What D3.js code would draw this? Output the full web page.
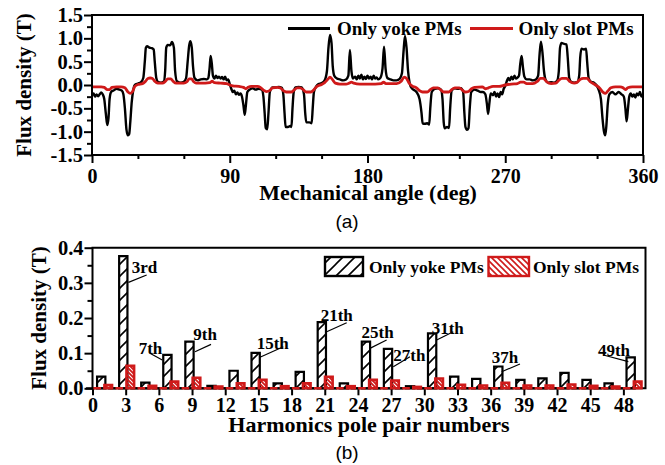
<!DOCTYPE html>
<html><head><meta charset="utf-8">
<script src="https://cdn.jsdelivr.net/npm/d3@7"></script>
<style>
html,body{margin:0;padding:0;background:#fff;}
svg{display:block;}
text.s{font-family:"Liberation Serif","Times New Roman",serif;font-weight:bold;fill:#000;}
text.a{font-family:"Liberation Sans",Arial,sans-serif;fill:#000;}
</style></head><body>
<svg id="c" width="665" height="465"></svg>
<script>
// ---------------- DATA ----------------
// (a) air-gap flux density vs mechanical angle
const yokeAngle = [0,1,2,3,4,5,6,7,8,9,10,10.8,11.5,12.5,14,16,18,19.5,20.5,21.5,22.5,23.5,24.3,25,26,27,28,30,32,33.5,34.5,35.2,36,37.5,39,40.3,41,42,43,45,47,47.8,48.5,49.5,51,52.3,53.5,54.3,55.5,58,60,61.5,62.5,63.5,64.3,65.2,66,67,69,71,73,75,76,76.8,77.5,78.3,79,80,81,82,83,84,85,86,87,88,89,90,91,92,93,94,95,96,97,98,99,99.8,100.5,101.5,103,105,107,109,111,112,112.8,113.5,114.5,115.3,116.2,118,120,122,124,125,125.8,126.5,128,129.5,130.3,131,131.8,133,135,137,138.5,139.3,140,142,143.5,144.2,145,146.5,148,150,152,153.5,154.5,155.5,156.5,157.3,158.3,160,162,164,166,167.5,168.5,169.5,170.5,172,173,174,175,176,177,178,179,180,181,182,183,184,185,186,187,188.5,189.8,190.8,191.8,193,195,197,199,201,202.5,203.5,204.5,205.5,206.5,207.5,208.5,210,212,214,215.3,216,217.5,219,220.3,221,222,224,226,228,229,229.8,230.5,232,233.3,234,235,237,239,241,242.5,243.3,244,245,246,246.8,247.8,250,252,254,255.5,257,258,258.8,259.6,260.5,262,263,264,265,266,267,268,269,270,271,272,273,274,275,276,277,278,279,279.8,280.7,281.5,282.5,284,286,288,290,291.5,292.3,293.3,294.3,295.3,296.5,298,300,302,304,305,305.8,306.8,308.5,310,310.8,311.8,313,315,317,318.3,319,319.8,321.5,322.8,323.5,324.5,326,328,329.5,331,332.5,333.5,334.5,335.3,336,337,338,340,342,344,346,347.5,348.5,349.3,350.2,351,352,353,354,355,356,357,358,359,360];
const yokeFlux = [-0.22,-0.18,-0.25,-0.2,-0.24,-0.2,-0.16,-0.2,-0.3,-0.6,-0.86,-0.7,-0.3,-0.15,-0.12,-0.08,-0.1,-0.12,-0.2,-0.5,-0.95,-1.08,-1.05,-0.8,-0.35,-0.1,0.0,0.03,0.06,0.15,0.5,0.8,0.83,0.8,0.79,0.76,0.5,0.15,0.07,0.05,0.08,0.3,0.8,0.86,0.85,0.92,0.8,0.3,0.08,0.05,0.07,0.15,0.5,0.85,0.94,0.8,0.4,0.15,0.1,0.12,0.13,0.12,0.15,0.35,0.62,0.45,0.2,0.14,0.2,0.15,0.18,0.14,0.17,0.12,0.18,0.1,0.12,0.02,-0.08,-0.15,-0.12,-0.2,-0.16,-0.21,-0.18,-0.25,-0.45,-0.64,-0.45,-0.15,-0.1,-0.07,-0.1,-0.08,-0.1,-0.25,-0.6,-0.92,-0.95,-0.6,-0.15,-0.05,-0.05,-0.04,-0.06,-0.2,-0.6,-0.9,-0.9,-0.88,-0.9,-0.5,-0.15,-0.05,-0.04,-0.05,-0.2,-0.6,-0.8,-0.8,-0.82,-0.5,-0.15,-0.03,0.02,0.04,0.1,0.3,0.8,1.07,0.9,0.4,0.2,0.14,0.12,0.1,0.12,0.2,0.75,0.3,0.14,0.18,0.12,0.2,0.14,0.22,0.12,0.18,0.13,0.2,0.14,0.18,0.12,0.2,0.14,0.16,0.12,0.16,0.35,0.82,0.35,0.15,0.12,0.1,0.1,0.13,0.25,0.7,1.05,0.8,0.3,0.05,-0.05,-0.1,-0.15,-0.3,-0.6,-0.82,-0.83,-0.82,-0.85,-0.5,-0.15,-0.08,-0.07,-0.1,-0.3,-0.8,-0.93,-0.9,-0.92,-0.5,-0.12,-0.07,-0.08,-0.07,-0.15,-0.6,-0.9,-0.96,-0.92,-0.5,-0.15,-0.1,-0.12,-0.15,-0.15,-0.2,-0.4,-0.62,-0.4,-0.18,-0.22,-0.15,-0.25,-0.18,-0.26,-0.15,-0.2,-0.08,-0.02,0.08,0.15,0.1,0.18,0.12,0.2,0.14,0.16,0.2,0.45,0.62,0.4,0.18,0.12,0.12,0.1,0.12,0.2,0.6,0.93,0.7,0.3,0.1,0.05,0.06,0.05,0.1,0.3,0.8,0.9,0.88,0.87,0.6,0.15,0.07,0.05,0.06,0.2,0.6,0.78,0.76,0.78,0.5,0.15,0.07,0.05,0.0,-0.1,-0.3,-0.7,-1.0,-1.08,-0.9,-0.4,-0.2,-0.15,-0.2,-0.15,-0.2,-0.25,-0.5,-0.78,-0.5,-0.25,-0.18,-0.25,-0.2,-0.27,-0.18,-0.22,-0.15,-0.25,-0.2];
const slotAngle = [0,6,8,10,11.5,13,16,19,21.5,23.5,25,26.5,28,30,33,35,36.5,38,39.5,41,43,46,48,49.5,51.5,53,55,60,62,63.5,65,66.5,68,74,77,78.5,80,84,88,90,92,96,99,100.5,102,104,108,110,112,114,116,118,121,123,125,127,130,132,134,136,138,140,143,145,147,150,152,154,155.5,157,159,162,166,168,169.5,171,175,185,189,190.5,192,199,202,204,205.5,207,209,212,214,216,219,221,223,226,228,230,233,235,237,240,242,244,246,248,250,255,257,259,262,266,270,274,278,280,282,284,288,291,293,295,297,300,303,305,307,310,312,315,317,319,321,323.5,325.5,328,330,332,334,335.5,337,339,342,345,347,348.5,350,353,360];
const slotFlux = [-0.04,-0.04,-0.05,-0.1,-0.1,-0.05,-0.04,-0.04,-0.06,-0.15,-0.18,-0.14,-0.03,0.01,0.03,0.08,0.14,0.15,0.14,0.08,0.04,0.04,0.08,0.13,0.13,0.08,0.04,0.04,0.07,0.13,0.13,0.07,0.04,0.04,0.05,0.08,0.05,0.04,0.03,0.0,-0.02,-0.03,-0.05,-0.08,-0.05,-0.03,-0.03,-0.05,-0.11,-0.14,-0.12,-0.06,-0.05,-0.06,-0.12,-0.15,-0.15,-0.11,-0.06,-0.06,-0.1,-0.15,-0.15,-0.1,-0.03,0.01,0.05,0.12,0.17,0.12,0.04,0.02,0.02,0.04,0.06,0.04,0.02,0.02,0.03,0.06,0.03,0.03,0.08,0.17,0.14,0.05,-0.02,-0.06,-0.12,-0.15,-0.15,-0.1,-0.06,-0.06,-0.11,-0.15,-0.15,-0.1,-0.06,-0.06,-0.11,-0.15,-0.14,-0.08,-0.05,-0.04,-0.08,-0.06,-0.03,-0.03,0.0,0.02,0.03,0.06,0.06,0.03,0.03,0.08,0.14,0.14,0.07,0.03,0.04,0.1,0.14,0.14,0.08,0.04,0.06,0.12,0.14,0.14,0.07,0.02,-0.02,-0.08,-0.16,-0.18,-0.13,-0.06,-0.04,-0.04,-0.06,-0.1,-0.06,-0.04,-0.04];

// (b) harmonic spectrum
const harmonics = [0,1,2,3,4,5,6,7,8,9,10,11,12,13,14,15,16,17,18,19,20,21,22,23,24,25,26,27,28,29,30,31,32,33,34,35,36,37,38,39,40,41,42,43,44,45,46,47,48,49];
const yokeHarm = [0,0.033,0,0.376,0,0.016,0,0.095,0,0.133,0,0.007,0,0.05,0,0.101,0,0.014,0,0.047,0,0.188,0,0.014,0,0.133,0,0.112,0,0.006,0,0.156,0,0.033,0,0.027,0,0.062,0,0.024,0,0.028,0,0.044,0,0.024,0,0.014,0,0.088];
const slotHarm = [0,0.009,0,0.064,0,0.007,0,0.019,0,0.03,0,0.005,0,0.014,0,0.024,0,0.006,0,0.014,0,0.033,0,0.006,0,0.024,0,0.022,0,0.004,0,0.028,0,0.01,0,0.008,0,0.016,0,0.008,0,0.008,0,0.011,0,0.007,0,0.005,0,0.019];
const annoHarm = [3,7,9,15,21,25,27,31,37,49];
const annoText = ['3rd','7th','9th','15th','21th','25th','27th','31th','37h','49th'];

// tick values
const topXTicks = [0,90,180,270,360];
const topXMinor = [30,60,120,150,210,240,300,330];
const topYTicks = [-1.5,-1.0,-0.5,0.0,0.5,1.0,1.5];
const topYMinor = [-1.25,-0.75,-0.25,0.25,0.75,1.25];
const botXTicks = [0,3,6,9,12,15,18,21,24,27,30,33,36,39,42,45,48];
const botYTicks = [0.0,0.1,0.2,0.3,0.4];
const botYMinor = [0.05,0.15,0.25,0.35];

const seriesNames = ['Only yoke PMs','Only slot PMs'];
const RED = '#cf1a1a';

// ---------------- DRAW ----------------
const svg = d3.select('#c');
const defs = svg.append('defs');
defs.append('pattern').attr('id','hK').attr('patternUnits','userSpaceOnUse').attr('width',12).attr('height',12)
  .append('path').attr('d','M-3,3 L3,-3 M0,12 L12,0 M9,15 L15,9').attr('stroke','#000').attr('stroke-width',1.6);
defs.append('pattern').attr('id','hR').attr('patternUnits','userSpaceOnUse').attr('width',6).attr('height',6)
  .append('path').attr('d','M-3,3 L3,9 M0,0 L6,6 M3,-3 L9,3').attr('stroke',RED).attr('stroke-width',1.6);
defs.append('pattern').attr('id','hR2').attr('patternUnits','userSpaceOnUse').attr('width',4).attr('height',4)
  .append('path').attr('d','M-2,2 L2,6 M0,0 L4,4 M2,-2 L6,2').attr('stroke',RED).attr('stroke-width',1.8);

function styleAxis(g, fs){
  g.select('.domain').remove();
  g.selectAll('.tick line').attr('stroke','#000').attr('stroke-width',2);
  g.selectAll('.tick text').attr('class','s').style('font-size',fs+'px');
}

// ===== (a) =====
const A = {l:92, r:643, t:15, b:155};
const xA = d3.scaleLinear().domain([0,360]).range([A.l,A.r]);
const yA = d3.scaleLinear().domain([-1.5,1.5]).range([A.b,A.t]);

svg.append('g').attr('transform',`translate(0,${A.b})`)
  .call(d3.axisBottom(xA).tickValues(topXMinor).tickSize(4).tickFormat(''))
  .call(g=>styleAxis(g,20));
svg.append('g').attr('transform',`translate(0,${A.b})`)
  .call(d3.axisBottom(xA).tickValues(topXTicks).tickSize(8).tickPadding(6).tickFormat(d=>d))
  .call(g=>styleAxis(g,20));
svg.append('g').attr('transform',`translate(${A.l},0)`)
  .call(d3.axisLeft(yA).tickValues(topYMinor).tickSize(5).tickFormat(''))
  .call(g=>styleAxis(g,20));
svg.append('g').attr('transform',`translate(${A.l},0)`)
  .call(d3.axisLeft(yA).tickValues(topYTicks).tickSize(8).tickPadding(1).tickFormat(d=>d.toFixed(1)))
  .call(g=>styleAxis(g,20.5));

const lineA = d3.line().x(d=>xA(d[0])).y(d=>yA(d[1])).curve(d3.curveMonotoneX);
svg.append('path').datum(d3.zip(yokeAngle,yokeFlux)).attr('d',lineA)
  .attr('fill','none').attr('stroke','#000').attr('stroke-width',2.4).attr('stroke-linejoin','round');
svg.append('path').datum(d3.zip(slotAngle,slotFlux)).attr('d',lineA)
  .attr('fill','none').attr('stroke',RED).attr('stroke-width',2.8).attr('stroke-linejoin','round');

svg.append('rect').attr('x',A.l).attr('y',A.t).attr('width',A.r-A.l).attr('height',A.b-A.t)
  .attr('fill','none').attr('stroke','#000').attr('stroke-width',2);

// legend (a)
svg.append('line').attr('x1',288).attr('x2',330).attr('y1',28.5).attr('y2',28.5).attr('stroke','#000').attr('stroke-width',3);
svg.append('text').attr('class','s').attr('x',337).attr('y',35).style('font-size','19px').text(seriesNames[0]);
svg.append('line').attr('x1',470).attr('x2',513).attr('y1',28.5).attr('y2',28.5).attr('stroke',RED).attr('stroke-width',3);
svg.append('text').attr('class','s').attr('x',518.5).attr('y',35).style('font-size','19px').text(seriesNames[1]);

svg.append('text').attr('class','s').attr('transform','translate(31,85) rotate(-90)').attr('text-anchor','middle')
  .style('font-size','21px').text('Flux density (T)');
svg.append('text').attr('class','s').attr('x',368).attr('y',200).attr('text-anchor','middle')
  .style('font-size','22px').text('Mechanical angle (deg)');
svg.append('text').attr('class','a').attr('x',347).attr('y',228).attr('text-anchor','middle')
  .style('font-size','19px').text('(a)');

// ===== (b) =====
const B = {l:92.5, r:645.5, t:247.7, b:388.3};
const xB = d3.scaleLinear().domain([0,50]).range([B.l,B.r]);
const yB = d3.scaleLinear().domain([0,0.4]).range([B.b,B.t]);
// bar-centre scale (bars sit slightly left of the tick positions)
const xBar = d3.scaleLinear().domain([0,50]).range([90.2,641.7]);
const bwK = 8.3, bwR = 7.6, offR = 7.0;

svg.append('g').attr('transform',`translate(0,${B.b})`)
  .call(d3.axisBottom(xB).tickValues(botXTicks).tickSize(7).tickPadding(3).tickFormat(d=>d))
  .call(g=>styleAxis(g,20));
svg.append('g').attr('transform',`translate(${B.l},0)`)
  .call(d3.axisLeft(yB).tickValues(botYMinor).tickSize(5).tickFormat(''))
  .call(g=>styleAxis(g,20));
svg.append('g').attr('transform',`translate(${B.l},0)`)
  .call(d3.axisLeft(yB).tickValues(botYTicks).tickSize(8).tickPadding(1).tickFormat(d=>d.toFixed(1)))
  .call(g=>styleAxis(g,20.5));

svg.append('path').attr('d',`M${B.l},${B.b} V${B.t} H${B.r} V${B.b} Z`)
  .attr('fill','none').attr('stroke','#000').attr('stroke-width',2);

function barPath(x0,x1,v){ const y0=yB(0), y1=yB(v); return `M${x0},${y0} V${y1} H${x1} V${y0} Z`; }
svg.append('g').selectAll('path').data(d3.zip(harmonics,yokeHarm)).join('path')
  .attr('d',d=>barPath(xBar(d[0])-bwK/2, xBar(d[0])+bwK/2, d[1]))
  .attr('fill','url(#hK)').attr('stroke','#000').attr('stroke-width',2.2).attr('stroke-linejoin','miter');
svg.append('g').selectAll('path').data(d3.zip(harmonics,slotHarm)).join('path')
  .attr('d',d=>barPath(xBar(d[0])+offR-bwR/2, xBar(d[0])+offR+bwR/2, d[1]))
  .attr('fill','url(#hR2)').attr('stroke',RED).attr('stroke-width',2.6);

// annotations (offsets relative to bar top corner)
const annoStyle = {
  3:{side:'r',anchor:'start',tx:4.2,ty:17,l:[1,26.2,19.2,18.9]},
  7:{side:'l',anchor:'end',tx:-1,ty:-1,l:[-13.3,-1.6,-1,5.1]},
  9:{side:'r',anchor:'start',tx:-0.3,ty:-1.5,l:[1.4,10.2,17.4,2.8]},
  15:{side:'r',anchor:'start',tx:-3.1,ty:-3.8,l:[0.2,4.5,23.5,-6.1]},
  21:{side:'r',anchor:'start',tx:-5.3,ty:-1.2,l:[0.7,9.5,20.7,0.5]},
  25:{side:'r',anchor:'start',tx:-8.5,ty:-3.5,l:[-0.2,6.8,16.5,-1.5]},
  27:{side:'r',anchor:'start',tx:1.1,ty:12.1,l:[1.1,17.8,17.8,7.8]},
  31:{side:'r',anchor:'start',tx:-4.6,ty:0.5,l:[0.4,6.5,17,-1.8]},
  37:{side:'r',anchor:'start',tx:-10.8,ty:-3.5,l:[-0.8,5.2,17.5,-2.5]},
  49:{side:'l',anchor:'end',tx:3.5,ty:-1.4,l:[-23.2,-2.4,1.8,4.3]}
};
const ga = svg.append('g');
annoHarm.forEach((h,i)=>{
  const s = annoStyle[h];
  const v = yokeHarm[harmonics.indexOf(h)];
  const cx = s.side==='r' ? xBar(h)+bwK/2 : xBar(h)-bwK/2;
  const cy = yB(v);
  ga.append('line').attr('x1',cx+s.l[0]).attr('y1',cy+s.l[1]).attr('x2',cx+s.l[2]).attr('y2',cy+s.l[3])
    .attr('stroke','#000').attr('stroke-width',1.2);
  ga.append('text').attr('class','s').attr('x',cx+s.tx).attr('y',cy+s.ty).attr('text-anchor',s.anchor)
    .style('font-size','17px').text(annoText[i]);
});

// legend (b)
svg.append('rect').attr('x',325).attr('y',257).attr('width',38).attr('height',19)
  .attr('fill','url(#hK)').attr('stroke','#000').attr('stroke-width',2.4);
svg.append('text').attr('class','s').attr('x',369).attr('y',272.5).style('font-size','17.5px').text(seriesNames[0]);
svg.append('rect').attr('x',488.5).attr('y',257).attr('width',40.5).attr('height',19)
  .attr('fill','url(#hR)').attr('stroke',RED).attr('stroke-width',2.4);
svg.append('text').attr('class','s').attr('x',533).attr('y',272.5).style('font-size','17.5px').text(seriesNames[1]);

svg.append('text').attr('class','s').attr('transform','translate(46,318) rotate(-90)').attr('text-anchor','middle')
  .style('font-size','21px').text('Flux density (T)');
svg.append('text').attr('class','s').attr('x',369).attr('y',432).attr('text-anchor','middle')
  .style('font-size','22px').text('Harmonics pole pair numbers');
svg.append('text').attr('class','a').attr('x',347).attr('y',459).attr('text-anchor','middle')
  .style('font-size','19px').text('(b)');
</script>
</body></html>
